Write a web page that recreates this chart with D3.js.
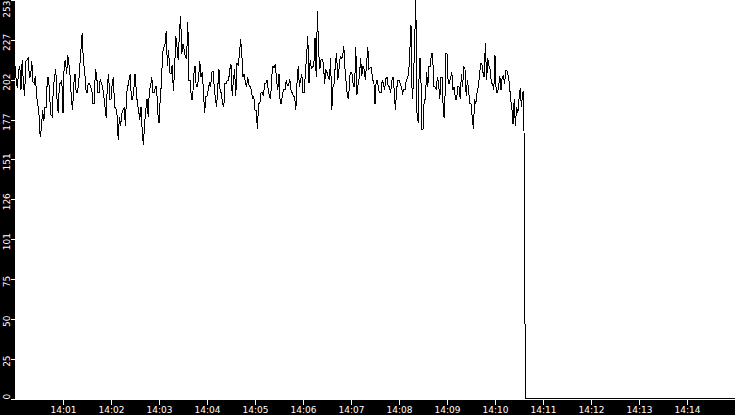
<!DOCTYPE html>
<html>
<head>
<meta charset="utf-8">
<script src="https://cdn.jsdelivr.net/npm/d3@7"></script>
<style>
  body { margin: 0; background: #fff; }
  svg { display: block; }
  .axis text { font-family: "DejaVu Sans", sans-serif; font-size: 9px; fill: #fff; }
  .axis line { stroke: #fff; }
</style>
</head>
<body>
<script>
// Samples every 1.5 seconds starting at 14:00:00.
const sampleStep = 1.5;
const values = [
    211, 202, 197, 208, 211, 196, 215, 200, 192, 214, 215, 216, 204, 205, 214, 201, 200, 205, 192, 187,
    180, 166, 172, 183, 176, 185, 185, 204, 204, 190, 180, 179, 198, 204, 209, 190, 181, 200, 200, 202,
    181, 213, 215, 206, 218, 212, 204, 190, 183, 200, 206, 194, 194, 200, 211, 222, 232, 213, 209, 196,
    194, 200, 200, 198, 196, 187, 187, 209, 206, 194, 194, 203, 200, 198, 192, 185, 178, 200, 206, 190,
    190, 200, 204, 185, 185, 180, 164, 179, 173, 181, 183, 185, 173, 194, 198, 202, 206, 190, 190, 196,
    206, 196, 187, 183, 177, 185, 170, 161, 175, 183, 190, 179, 196, 198, 204, 194, 194, 198, 198, 181,
    175, 190, 200, 219, 223, 225, 233, 211, 221, 207, 206, 212, 195, 209, 230, 223, 215, 232, 243, 219,
    225, 221, 217, 216, 239, 202, 202, 190, 190, 206, 211, 198, 198, 204, 214, 204, 207, 196, 181, 192,
    192, 196, 200, 198, 207, 208, 198, 190, 185, 198, 209, 194, 194, 187, 185, 200, 200, 202, 202, 209,
    212, 192, 202, 209, 192, 213, 212, 218, 228, 219, 204, 206, 200, 198, 204, 199, 198, 196, 190, 192,
    183, 183, 171, 187, 187, 194, 194, 192, 200, 200, 202, 196, 192, 190, 205, 211, 210, 212, 202, 196,
    206, 187, 187, 194, 196, 196, 202, 199, 199, 203, 196, 194, 192, 192, 183, 200, 211, 198, 202, 206,
    194, 194, 207, 218, 230, 200, 215, 209, 211, 211, 229, 204, 246, 221, 209, 215, 215, 213, 200, 209,
    207, 204, 202, 216, 183, 198, 200, 213, 219, 202, 209, 217, 216, 217, 224, 209, 200, 192, 190, 205,
    207, 206, 198, 198, 223, 193, 200, 204, 216, 205, 211, 209, 202, 213, 223, 209, 210, 210, 202, 202,
    187, 202, 202, 196, 194, 194, 202, 200, 196, 203, 204, 198, 198, 194, 202, 204, 196, 183, 196, 202,
    202, 200, 198, 194, 196, 196, 202, 203, 206, 220, 237, 190, 200, 225, 253, 181, 175, 216, 216, 171,
    171, 190, 190, 207, 198, 211, 211, 219, 219, 198, 198, 196, 204, 200, 190, 204, 204, 180, 178, 219,
    219, 200, 200, 204, 207, 196, 198, 190, 190, 198, 198, 190, 206, 198, 211, 209, 192, 202, 196, 187,
    187, 179, 171, 190, 187, 194, 198, 204, 213, 213, 207, 204, 226, 202, 216, 211, 209, 200, 200, 196,
    218, 194, 194, 198, 205, 196, 204, 205, 200, 208, 208, 205, 200, 190, 185, 174, 190, 173, 185, 181,
    190, 197, 185, 194, 195
];
// After the feed stops the value drops to zero (seconds after 14:00).
const tailSeconds = [637, 638, 900];
const tailValues = [97, 0, 0];

const yTicks = [0, 25.3, 50.6, 75.9, 101.2, 126.5, 151.8, 177.1, 202.4, 227.7, 253];
const yTickLabels = ["0", "25", "50", "75", "101", "126", "151", "177", "202", "227", "253"];
const xTickLabels = ["14:01", "14:02", "14:03", "14:04", "14:05", "14:06", "14:07",
    "14:08", "14:09", "14:10", "14:11", "14:12", "14:13", "14:14"];

const width = 735;
const height = 415;
const margin = {top: 0, right: 0, bottom: 16.5, left: 15};

const start = new Date(2020, 0, 1, 14, 0, 0);
const at = (s) => new Date(start.getTime() + s * 1000);
const parseTime = d3.timeParse("%H:%M");
const tickTime = (label) => {
    const t = parseTime(label);
    return new Date(2020, 0, 1, t.getHours(), t.getMinutes());
};

const data = values.map((v, i) => ({t: at(i * sampleStep), v}))
    .concat(tailSeconds.map((s, i) => ({t: at(s), v: tailValues[i]})));

const x = d3.scaleTime()
    .domain([start, at(900)])
    .range([margin.left, width - margin.right]);

const y = d3.scaleLinear()
    .domain([0, 253])
    .range([height - margin.bottom, margin.top]);

const svg = d3.select('body').append('svg')
    .attr('width', width)
    .attr('height', height);

// black axis strips
svg.append('rect')
    .attr('x', 0).attr('y', 0)
    .attr('width', margin.left).attr('height', height)
    .attr('fill', '#000');
svg.append('rect')
    .attr('x', 0).attr('y', 400)
    .attr('width', width).attr('height', height - 400)
    .attr('fill', '#000');

// line
const line = d3.line()
    .x(d => x(d.t))
    .y(d => y(d.v));

svg.append('path')
    .datum(data)
    .attr('d', line)
    .attr('fill', 'none')
    .attr('stroke', '#000')
    .attr('stroke-width', 1)
    .attr('shape-rendering', 'crispEdges');

// Left axis
const yAxis = svg.append('g')
    .attr('class', 'axis')
    .attr('transform', `translate(${margin.left},0)`)
    .call(d3.axisLeft(y)
        .tickValues(yTicks)
        .tickSize(4)
        .tickFormat((d, i) => yTickLabels[i]));
yAxis.select('.domain').remove();
yAxis.selectAll('line').attr('shape-rendering', 'crispEdges');
yAxis.selectAll('text')
    .attr('text-anchor', 'middle')
    .attr('dy', null)
    .attr('x', null)
    .attr('transform', function (d, i) {
        const half = yTickLabels[i].length * 2.9;
        const cy = Math.max(half, Math.min(y(d) + 2, 399 - half)) - y(d);
        return `translate(-5,${cy}) rotate(-90)`;
    })
    .attr('y', 0);

// Bottom axis
const xAxis = svg.append('g')
    .attr('class', 'axis')
    .attr('transform', 'translate(0,400)')
    .call(d3.axisBottom(x)
        .tickValues(xTickLabels.map(tickTime))
        .tickSize(5)
        .tickFormat((d, i) => xTickLabels[i]));
xAxis.select('.domain').remove();
xAxis.selectAll('line').attr('shape-rendering', 'crispEdges');
xAxis.selectAll('text')
    .attr('y', 13)
    .attr('dy', null);
</script>
</body>
</html>
